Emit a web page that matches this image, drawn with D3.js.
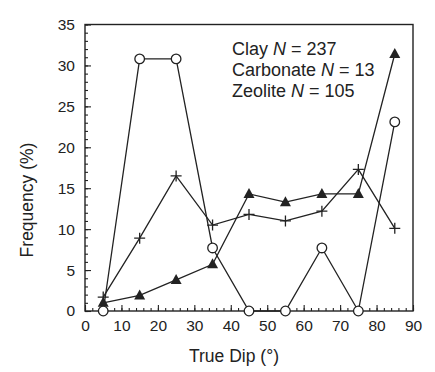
<!DOCTYPE html>
<html><head><meta charset="utf-8">
<script src="https://cdn.jsdelivr.net/npm/d3@7"></script>
<style>body{margin:0;background:#fff}svg{display:block}text{font-family:"Liberation Sans",Arial,sans-serif;fill:#222}</style>
</head><body>
<script>
const dips = [5, 15, 25, 35, 45, 55, 65, 75, 85];
const clay = [1.7, 8.9, 16.5, 10.5, 11.8, 11.0, 12.2, 17.3, 10.1];
const carbonate = [0, 30.8, 30.8, 7.7, 0, 0, 7.7, 0, 23.1];
const zeolite = [1.0, 1.9, 3.8, 5.7, 14.3, 13.3, 14.3, 14.3, 31.4];
const xTicks = [0,10,20,30,40,50,60,70,80,90];
const yTicks = [0,5,10,15,20,25,30,35];
const legendLines = [["Clay", "237"], ["Carbonate", "13"], ["Zeolite", "105"]];

const W = 435, H = 372;
const svg = d3.select("body").append("svg").attr("width", W).attr("height", H);
const x = d3.scaleLinear().domain([0, 90]).range([85, 413]);
const y = d3.scaleLinear().domain([0, 35]).range([311, 24.5]);
const ink = "#222";

// minor ticks
const g = svg.append("g");
g.append("g").attr("transform", `translate(0,${y(0)})`)
  .call(d3.axisBottom(x).tickValues(d3.range(0, 91, 2)).tickSize(-3).tickFormat(""))
  .call(a => a.select(".domain").remove());
g.append("g").attr("transform", `translate(${x(0)},0)`)
  .call(d3.axisLeft(y).tickValues(d3.range(0, 36, 1)).tickSize(-3).tickFormat(""))
  .call(a => a.select(".domain").remove());
// major ticks
const xa = g.append("g").attr("transform", `translate(0,${y(0)})`)
  .call(d3.axisBottom(x).tickValues(xTicks).tickSize(-6).tickPadding(10).tickFormat(d3.format("d")));
xa.select(".domain").remove();
xa.selectAll("text").attr("font-size", 15.5).attr("dy", "0.71em").attr("y", 9);
const ya = g.append("g").attr("transform", `translate(${x(0)},0)`)
  .call(d3.axisLeft(y).tickValues(yTicks).tickSize(-6).tickPadding(10).tickFormat(d3.format("d")));
ya.select(".domain").remove();
ya.selectAll("text").attr("font-size", 15.5).attr("x", -10);
g.selectAll(".tick line").attr("stroke", ink).attr("stroke-width", 1.1);
g.selectAll(".tick text").attr("fill", ink).attr("font-family", '"Liberation Sans",Arial,sans-serif');

// frame
svg.append("rect").attr("x", x(0)).attr("y", y(35)).attr("width", x(90) - x(0)).attr("height", y(0) - y(35))
  .attr("fill", "none").attr("stroke", ink).attr("stroke-width", 1.4);

const line = d3.line().x((d, i) => x(dips[i])).y(d => y(d));
[clay, zeolite, carbonate].forEach(s => {
  svg.append("path").datum(s).attr("d", line).attr("fill", "none").attr("stroke", ink).attr("stroke-width", 1.3);
});

// clay: plus
svg.append("g").selectAll("path").data(clay).join("path")
  .attr("d", (d, i) => { const cx = x(dips[i]), cy = y(d); return `M${cx-5.5},${cy}H${cx+5.5}M${cx},${cy-5.5}V${cy+5.5}`; })
  .attr("stroke", ink).attr("stroke-width", 1.3);
// zeolite: filled triangles
svg.append("g").selectAll("path").data(zeolite).join("path")
  .attr("d", (d, i) => { const cx = x(dips[i]), cy = y(d); return `M${cx},${cy-6}L${cx+5.5},${cy+4}L${cx-5.5},${cy+4}Z`; })
  .attr("fill", ink);
// carbonate: open circles
svg.append("g").selectAll("circle").data(carbonate).join("circle")
  .attr("cx", (d, i) => x(dips[i])).attr("cy", d => y(d)).attr("r", 4.8)
  .attr("fill", "#fff").attr("stroke", ink).attr("stroke-width", 1.3);

// legend text
const lg = svg.append("g");
legendLines.forEach((l, i) => {
  const t = lg.append("text").attr("x", 232).attr("y", 55 + i * 21).attr("font-size", 18);
  t.append("tspan").text(l[0] + " ");
  t.append("tspan").attr("font-style", "italic").text("N");
  t.append("tspan").text(" = " + l[1]);
});

// axis titles
svg.append("text").attr("x", 234).attr("y", 362).attr("text-anchor", "middle").attr("font-size", 17.5).text("True Dip (°)");
svg.append("text").attr("transform", "translate(33,200) rotate(-90)").attr("text-anchor", "middle").attr("font-size", 17.5).text("Frequency (%)");
</script>
</body></html>
